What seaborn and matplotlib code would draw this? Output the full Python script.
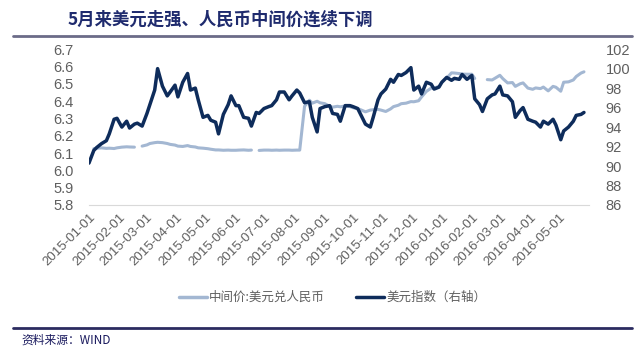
import numpy as np
import pandas as pd
import seaborn as sns
import matplotlib.pyplot as plt
from matplotlib.lines import Line2D

sns.set_style('white')
plt.rcParams['font.family'] = ['Liberation Sans', 'Noto Sans CJK SC', 'DejaVu Sans']

# sample dates: every 3rd business day, 2015-01-01 .. 2016-05-27
dates = pd.bdate_range('2015-01-01', '2016-05-31', freq='3B')

nan = np.nan
# 中间价:美元兑人民币 (left axis)
cny = [
    nan, 6.125, 6.128, 6.130, 6.127, 6.128, 6.126, 6.130,          # 2015-01
    6.134, 6.136, 6.135, 6.134, nan, 6.140,                         # 02
    6.147, 6.155, 6.160, 6.162, 6.160, 6.155, 6.150, 6.146,         # 03
    6.140, 6.138, 6.143, 6.138, 6.135, 6.130, 6.128,                # 04
    6.125, 6.122, 6.118, 6.118, 6.116, 6.117, 6.116,                # 05
    6.116, 6.117, 6.118, 6.116, 6.117, nan, 6.115,                  # 06
    6.117, 6.117, 6.116, 6.117, 6.116, 6.117, 6.117, 6.116,         # 07
    6.117, 6.117, 6.370, 6.405, 6.388, 6.399, 6.390,                # 08
    6.385, 6.370, 6.365, 6.370, 6.367, 6.372, 6.368,                # 09
    6.362, 6.356, 6.350, 6.338, 6.348, 6.350, 6.352, 6.348,         # 10
    6.340, 6.355, 6.368, 6.376, 6.385, 6.388, 6.397,                # 11
    6.396, 6.402, 6.424, 6.456, 6.475, 6.475, 6.485,                # 12
    nan, 6.532, 6.563, 6.562, 6.559, 6.556, 6.555,                  # 2016-01
    6.555, 6.531, nan, nan, 6.524, 6.522, 6.532,                    # 02
    6.549, 6.530, 6.505, 6.507, 6.485, 6.500, 6.505, 6.475,         # 03
    6.468, 6.476, 6.472, 6.481, 6.459, 6.485, 6.480,                # 04
    6.457, 6.509, 6.511, 6.522, 6.542, 6.562, 6.569,                # 05
]
# 美元指数 (right axis)
dxy = [
    90.3, 91.6, 91.9, 92.3, 92.6, 93.3, 94.8, 94.9,                 # 2015-01
    94.0, 94.6, 93.9, 94.3, 94.4, 94.1,                             # 02
    95.4, 96.3, 97.8, 100.0, 98.2, 97.2, 97.6, 98.3,                # 03
    97.1, 98.6, 99.5, 97.8, 98.0, 96.8, 95.0,                       # 04
    95.2, 94.7, 94.5, 93.3, 95.3, 96.3, 97.2,                       # 05
    96.2, 96.2, 95.0, 94.9, 94.1, 95.5, 95.4,                       # 06
    95.9, 96.1, 96.2, 96.8, 97.6, 97.6, 96.8, 97.2,                 # 07
    97.8, 97.5, 96.5, 96.6, 95.0, 93.5, 95.9,                       # 08
    96.1, 96.2, 95.4, 95.3, 94.6, 96.2, 96.2,                       # 09
    96.1, 95.9, 95.3, 94.3, 94.0, 95.0, 96.8, 97.4,                 # 10
    97.9, 98.9, 98.6, 99.4, 99.3, 99.6, 100.1,                      # 11
    97.8, 98.2, 97.4, 98.6, 98.4, 97.9, 98.1,                       # 12
    98.6, 99.1, 98.8, 99.0, 98.9, 99.4, 98.9,                       # 2016-01
    99.3, 96.9, 96.3, 95.6, 96.9, 97.3, 97.4,                       # 02
    98.2, 97.3, 97.2, 96.6, 95.0, 95.7, 96.0, 94.8,                 # 03
    94.6, 94.5, 94.0, 94.6, 94.3, 94.8, 94.2,                       # 04
    92.7, 93.6, 94.0, 94.6, 95.2, 95.3, 95.5,                       # 05
]

tick_dates = pd.date_range('2015-01-01', '2016-05-01', freq='MS')
left_ticks = [5.8, 5.9, 6.0, 6.1, 6.2, 6.3, 6.4, 6.5, 6.6, 6.7]
right_ticks = [86, 88, 90, 92, 94, 96, 98, 100, 102]

light = '#a3b7d2'
dark = '#0e2c5b'
grey = '#5f5f5f'

df = pd.DataFrame({'date': dates, 'cny': cny, 'dxy': dxy})
df['seg'] = df['cny'].isna().cumsum()
cny_df = df.dropna(subset=['cny'])

fig = plt.figure(figsize=(6.4, 3.51), dpi=100)
ax = fig.add_axes([0.139, 0.416, 0.781, 0.444])
ax2 = ax.twinx()

sns.lineplot(data=cny_df, x='date', y='cny', units='seg', estimator=None,
             color=light, lw=2.2, ax=ax, legend=False)
sns.lineplot(data=df, x='date', y='dxy', color=dark, lw=2.5, ax=ax2, legend=False)

ax.set_xlim(pd.Timestamp('2015-01-01'), pd.Timestamp('2016-06-01'))
ax.set_ylim(5.8, 6.7)
ax2.set_ylim(86, 102)
ax.set_yticks(left_ticks)
ax.set_yticklabels([f'{v:.1f}' for v in left_ticks])
ax2.set_yticks(right_ticks)
ax.set_xticks(tick_dates)
ax.set_xticklabels([d.strftime('%Y-%m-%d') for d in tick_dates], rotation=45,
                   ha='right', rotation_mode='anchor')
for a in (ax, ax2):
    a.set_xlabel('')
    a.set_ylabel('')
    for s in a.spines.values():
        s.set_visible(False)
ax.spines['bottom'].set_visible(True)
ax.spines['bottom'].set_color('#d9d9d9')
ax.tick_params(axis='x', colors='#d9d9d9', labelcolor=grey, labelsize=9.5,
               length=3, direction='inout', pad=3)
ax.tick_params(axis='y', length=0, labelcolor=grey, labelsize=10.5, pad=11)
ax2.tick_params(axis='y', length=0, labelcolor=grey, labelsize=10.5, pad=12)

# title & rules
fig.text(0.106, 0.945, '5月来美元走强、人民币中间价连续下调', fontsize=12.5,
         fontweight='bold', color='#1f2b6e', va='center',
         family=['Noto Sans CJK SC', 'DejaVu Sans'])
fig.add_artist(Line2D([0.02, 0.988], [0.897, 0.897], color='#6b6b88', lw=2))
fig.add_artist(Line2D([0.02, 0.988], [0.066, 0.066], color='#2b2b60', lw=2))
fig.text(0.033, 0.03, '资料来源：WIND', fontsize=8.5, color='#1a1a5e', va='center',
         family=['Noto Sans CJK SC', 'DejaVu Sans'])

handles = [Line2D([], [], color=light, lw=2.5), Line2D([], [], color=dark, lw=2.5)]
fig.legend(handles, ['中间价:美元兑人民币', '美元指数（右轴）'], loc='center',
           bbox_to_anchor=(0.52, 0.152), ncol=2, frameon=False,
           prop={'family': ['Noto Sans CJK SC', 'DejaVu Sans'], 'size': 9},
           labelcolor=grey, handlelength=2.2, handletextpad=0.2, columnspacing=2.5)

fig.savefig('out.png', dpi=100)
